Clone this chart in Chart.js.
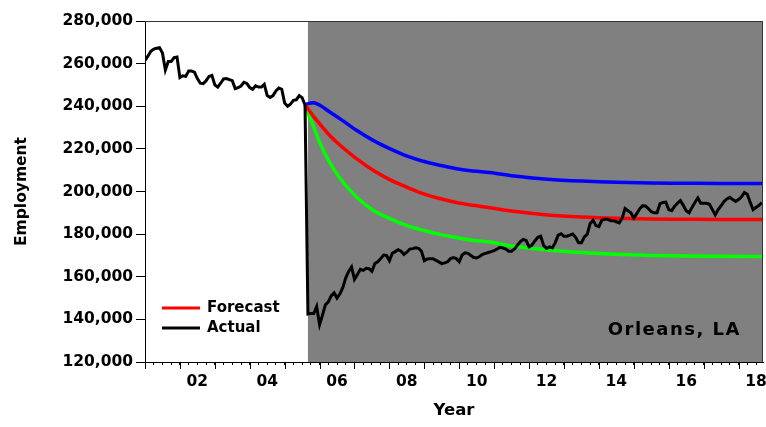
<!DOCTYPE html>
<html lang="en">
<head>
  <meta charset="UTF-8" />
  <title>Orleans, LA employment</title>
  <script src="https://cdn.jsdelivr.net/npm/chart.js"></script>
  <style>
    html, body { margin: 0; padding: 0; background: #fff; }
    #wrap { width: 766px; height: 427px; }
  </style>
</head>
<body>
  <div id="wrap"><canvas id="chart" width="766" height="427"></canvas></div>

  <script>
    // monthly actual employment (thousands), Jan 2001 .. Sep 2018
    const firstYear = 2001;
    const actual = [
      261.5, 263.5, 265.8, 266.8, 267.2, 267.5, 265, 257, 261, 261, 262.8, 263.1,
      253.5, 254.3, 254, 256.5, 256.5, 256, 253, 250.8, 250.6, 252, 254, 254.5,
      250, 249, 250.8, 252.8, 253, 252.5, 252, 248.3, 248.7, 249.5, 251.2, 250.7,
      248.8, 248, 249.6, 249, 249, 250.3, 245, 244.1, 245, 247.2, 248.6, 248,
      241.5, 240, 241, 242.8, 243, 245, 244, 240.6, 142.5, 142.7, 142.7, 146,
      137.5, 142, 146.8, 148.2, 151, 152.5, 150, 152, 155, 159.5, 162.5, 164.6,
      158.8, 161, 163.5, 163, 164, 163.8, 162.5, 166.2, 167, 168.5, 170.2, 170,
      167.5, 171, 171.8, 172.7, 172, 170.5, 171.5, 173, 173.2, 173.6, 173.3, 172,
      167.5, 168.3, 168.5, 168.5, 167.7, 167, 166.2, 166.5, 167, 168.5, 169, 168.5,
      167, 170.2, 171.2, 171, 170, 169, 168.8, 169.5, 170.5, 171, 171.4, 171.8,
      172.3, 173, 173.8, 173.5, 173, 172, 172, 173, 174.8, 176.5, 177.5, 177,
      174, 174.8, 176.8, 178.5, 179, 174.7, 173.3, 174, 173.5, 176, 179.5, 180.2,
      179, 179, 179.5, 180, 178.5, 176, 176, 178.7, 180, 185, 186.5, 184,
      183.5, 186.5, 187, 187, 186.3, 186.3, 185.8, 185.3, 187.5, 192, 191, 190,
      187.5, 189.6, 191.8, 193.3, 193.2, 192, 190.5, 190, 190, 194.3, 194.8, 195,
      191.5, 191, 193, 194.5, 195.7, 193.5, 191, 190, 192.5, 194.8, 197, 194.5,
      194.5, 194.5, 194, 191.5, 189, 191.5, 193.3, 195.3, 196.5, 197.3, 196.2, 195.3,
      196.2, 197.5, 199.5, 198.7, 195, 191.5, 192.5, 193.5, 194.8
    ];

    // forecast paths (thousands) read at these dates (decimal years)
    const forecastYears = [2005.583, 2005.672, 2005.815, 2006.007, 2006.293, 2006.579, 2007.057,
      2007.532, 2008.01, 2008.488, 2008.963, 2009.441, 2009.919, 2010.394, 2010.872, 2011.559,
      2012.532, 2013.505, 2014.493, 2015.469, 2016.448, 2017.426, 2018.7];
    const forecastHigh = [240.6, 241.2, 241.6, 240.5, 237.3, 234.2, 228.7, 224, 220.1, 216.7, 214.2,
      212.3, 210.7, 209.6, 208.9, 207.3, 205.8, 204.9, 204.3, 204, 203.9, 203.8, 203.8];
    const forecastMid = [240.6, 238.7, 235.5, 231.7, 226.3, 221.8, 215.4, 210, 205.6, 202.1, 199,
      196.7, 194.8, 193.5, 192.4, 190.7, 189, 188, 187.4, 187.1, 187, 186.9, 186.9];
    const forecastLow = [240.6, 236.7, 231, 222.8, 213.5, 206.3, 197.4, 191.2, 187.3, 184.1, 181.8,
      179.9, 178.4, 177.1, 176.3, 174.3, 172.6, 171.4, 170.5, 170, 169.7, 169.6, 169.5];

    const shadeFrom = 2005 + 8 / 12;   // Sep 2005
    const xMin = 2001, xMax = 2018.7;
    const yTicks = [120000, 140000, 160000, 180000, 200000, 220000, 240000, 260000, 280000];

    const actualPts = actual.map((v, i) => ({ x: firstYear + i / 12, y: v * 1000 }));
    const fc = arr => arr.map((v, i) => ({ x: forecastYears[i], y: v * 1000 }));

    Chart.defaults.font.family = '"DejaVu Sans", Arial, sans-serif';
    Chart.defaults.font.weight = 'bold';
    Chart.defaults.color = '#000';

    const decorations = {
      id: 'decorations',
      beforeDatasetsDraw(chart) {
        const { ctx, chartArea: a, scales: { x } } = chart;
        const x0 = x.getPixelForValue(shadeFrom);
        ctx.save();
        ctx.fillStyle = '#808080';
        ctx.fillRect(x0, a.top, a.right - x0, a.bottom - a.top);
        ctx.restore();
      },
      afterDraw(chart) {
        const { ctx, chartArea: a, scales: { x } } = chart;
        ctx.save();
        // frame top / right
        ctx.strokeStyle = '#333';
        ctx.lineWidth = 1;
        ctx.beginPath();
        ctx.moveTo(a.left, a.top + 0.5);
        ctx.lineTo(a.right - 0.5, a.top + 0.5);
        ctx.lineTo(a.right - 0.5, a.bottom);
        ctx.stroke();
        // longer year ticks
        ctx.strokeStyle = '#000';
        ctx.beginPath();
        for (let yr = Math.ceil(xMin); yr <= xMax; yr++) {
          const px = Math.round(x.getPixelForValue(yr)) + 0.5;
          ctx.moveTo(px, a.bottom);
          ctx.lineTo(px, a.bottom + 7);
        }
        ctx.stroke();
        // legend
        ctx.font = 'bold 15px "DejaVu Sans", Arial, sans-serif';
        ctx.textBaseline = 'middle';
        ctx.textAlign = 'left';
        const items = [['Forecast', '#ff0000'], ['Actual', '#000000']];
        items.forEach(([label, col], i) => {
          const ly = a.top + 287 + i * 20;
          ctx.strokeStyle = col;
          ctx.lineWidth = 3;
          ctx.beginPath();
          ctx.moveTo(a.left + 17, ly);
          ctx.lineTo(a.left + 55, ly);
          ctx.stroke();
          ctx.fillStyle = '#000';
          ctx.fillText(label, a.left + 62, ly);
        });
        // region caption
        ctx.font = 'bold 18px "DejaVu Sans", Arial, sans-serif';
        ctx.letterSpacing = '1.5px';
        ctx.textAlign = 'right';
        ctx.fillText('Orleans, LA', a.right - 22, a.top + 309);
        ctx.restore();
      }
    };

    const line = (label, data, color, width, smooth) => ({
      label, data, borderColor: color, backgroundColor: color, borderWidth: width,
      pointRadius: 0, fill: false, tension: 0,
      cubicInterpolationMode: smooth ? 'monotone' : 'default'
    });

    new Chart(document.getElementById('chart'), {
      type: 'line',
      data: {
        datasets: [
          line('Actual', actualPts, '#000000', 3, false),
          line('Forecast', fc(forecastMid), '#ff0000', 3.5, true),
          line('High', fc(forecastHigh), '#0000ff', 3.5, true),
          line('Low', fc(forecastLow), '#00ff00', 3.5, true)
        ]
      },
      options: {
        responsive: false,
        animation: false,
        layout: { padding: { top: 21, right: 3, bottom: 0, left: 0 } },
        plugins: { legend: { display: false }, tooltip: { enabled: false } },
        scales: {
          x: {
            type: 'linear',
            min: xMin,
            max: xMax,
            afterBuildTicks: s => {
              const t = [];
              for (let q = xMin * 4; q / 4 <= xMax; q++) t.push({ value: q / 4 });
              s.ticks = t;
            },
            afterFit: s => { s.height = 65; s.paddingLeft = 0; s.paddingRight = 0; },
            grid: { drawOnChartArea: false, tickLength: 3, color: '#000' },
            border: { color: '#000', width: 1 },
            ticks: {
              autoSkip: false,
              maxRotation: 0,
              padding: 8,
              font: { size: 15.5, weight: 'bold' },
              callback: v => {
                const yr = Math.floor(v + 1e-6);
                if (Math.abs(v - yr - 0.5) < 1e-6 && yr % 2 === 0) return String(yr % 100).padStart(2, '0');
                return '';
              }
            },
            title: { display: true, text: 'Year', font: { size: 16.5, weight: 'bold' }, padding: { top: 0, bottom: 6 } }
          },
          y: {
            min: 120000,
            max: 280000,
            afterBuildTicks: s => { s.ticks = yTicks.map(v => ({ value: v })); },
            afterFit: s => { s.width = 145; },
            grid: { drawOnChartArea: false, tickLength: 9, color: '#000' },
            border: { color: '#000', width: 1 },
            ticks: {
              padding: 3,
              font: { size: 15.5, weight: 'bold' },
              callback: v => v.toLocaleString('en-US')
            },
            title: { display: true, text: 'Employment', font: { size: 15.5, weight: 'bold' }, padding: { top: 13, bottom: 0 } }
          }
        }
      },
      plugins: [decorations]
    });
  </script>
</body>
</html>
